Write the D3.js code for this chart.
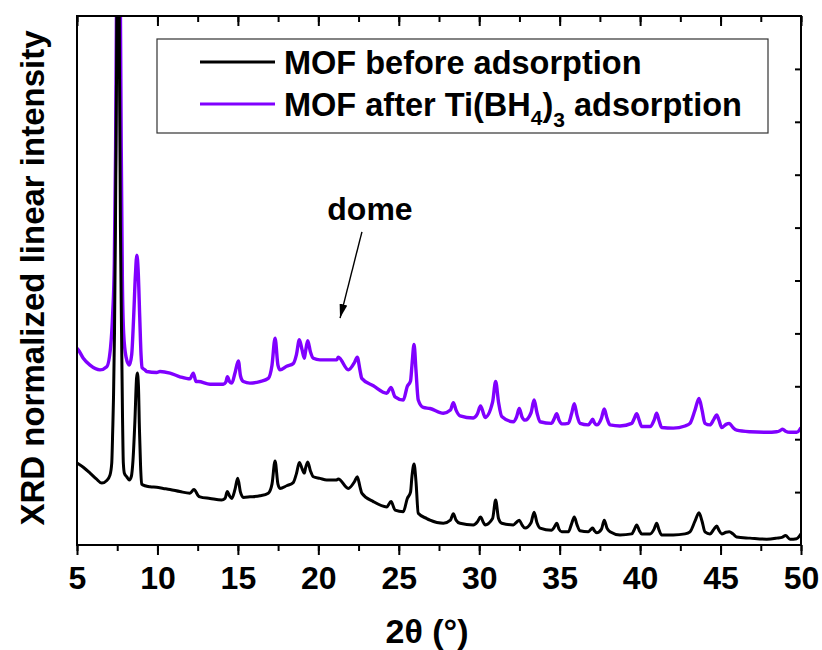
<!DOCTYPE html>
<html>
<head>
<meta charset="utf-8">
<script src="https://cdn.jsdelivr.net/npm/d3@7"></script>
<style>
body { margin: 0; background: #fff; }
svg text { font-family: "Liberation Sans", Arial, sans-serif; font-weight: bold; }
</style>
</head>
<body>
<div id="chart"></div>
<script>
// 2theta (deg), normalized intensity (arb. units)
const beforeAdsorption = [
  [5.00,1.55],[5.39,1.47],[5.81,1.36],[6.20,1.25],[6.54,1.17],[6.85,1.22],[7.05,1.32],[7.16,1.55],
  [7.22,2.17],[7.27,2.8],[7.33,4.0],[7.39,6.0],[7.46,9.0],[7.53,13.0],[7.58,13.0],[7.64,9.0],
  [7.70,6.0],[7.77,4.0],[7.83,2.4],[7.88,1.55],[7.95,1.35],[8.09,1.29],[8.25,1.23],[8.38,1.30],
  [8.48,1.60],[8.60,2.35],[8.70,3.15],[8.75,3.25],[8.82,3.00],[8.88,2.20],[8.95,1.50],[9.02,1.15],
  [9.23,1.12],[9.54,1.10],[9.95,1.09],[10.36,1.07],[10.78,1.05],[11.40,1.01],[12.02,0.98],[12.27,1.05],
  [12.54,0.93],[12.64,0.91],[13.27,0.88],[13.99,0.85],[14.20,0.88],[14.34,1.01],[14.48,0.93],[14.62,0.88],
  [14.82,1.05],[14.99,1.26],[15.16,1.00],[15.34,0.90],[15.75,0.91],[16.37,0.93],[16.89,0.98],[17.12,1.15],
  [17.31,1.59],[17.49,1.15],[17.62,1.07],[18.03,1.12],[18.44,1.18],[18.64,1.35],[18.82,1.56],[18.98,1.45],
  [19.13,1.36],[19.20,1.45],[19.34,1.57],[19.51,1.40],[19.69,1.29],[20.10,1.26],[20.52,1.23],[21.14,1.23],
  [21.24,1.25],[21.86,1.07],[22.25,1.20],[22.42,1.29],[22.59,1.10],[22.70,0.98],[23.42,0.82],[24.25,0.72],
  [24.52,0.82],[24.77,0.66],[25.28,0.63],[25.53,0.88],[25.73,1.00],[25.82,1.30],[25.95,1.53],[26.07,1.20],
  [26.21,0.60],[26.74,0.50],[26.94,0.47],[27.77,0.41],[28.21,0.47],[28.39,0.59],[28.56,0.47],[28.81,0.41],
  [29.63,0.38],[29.89,0.44],[30.08,0.53],[30.27,0.42],[30.36,0.38],[30.83,0.50],[31.02,0.85],[31.20,0.50],
  [31.40,0.41],[32.12,0.38],[32.32,0.43],[32.49,0.47],[32.66,0.38],[32.85,0.32],[33.22,0.42],[33.41,0.62],
  [33.59,0.42],[33.78,0.32],[34.50,0.28],[34.65,0.33],[34.82,0.41],[34.96,0.30],[35.13,0.25],[35.54,0.25],
  [35.74,0.40],[35.91,0.53],[36.08,0.38],[36.26,0.27],[36.78,0.25],[36.92,0.29],[37.05,0.32],[37.16,0.27],
  [37.30,0.23],[37.60,0.30],[37.77,0.47],[37.94,0.32],[38.13,0.25],[38.75,0.19],[39.48,0.21],[39.62,0.28],
  [39.79,0.38],[39.94,0.28],[40.10,0.21],[40.62,0.21],[40.87,0.30],[41.03,0.41],[41.18,0.28],[41.34,0.19],
  [42.06,0.19],[42.79,0.21],[43.10,0.25],[43.41,0.45],[43.66,0.61],[43.85,0.45],[44.03,0.25],[44.34,0.21],
  [44.59,0.30],[44.76,0.36],[44.90,0.28],[45.07,0.21],[45.34,0.24],[45.54,0.25],[45.77,0.21],[46.00,0.15],
  [46.83,0.13],[47.87,0.11],[48.49,0.13],[48.86,0.15],[49.04,0.18],[49.32,0.11],[49.73,0.12],[50.00,0.21]
];

const afterAdsorption = [
  [5.00,3.72],[5.08,3.69],[5.39,3.53],[5.81,3.40],[6.43,3.31],[6.85,3.37],[7.09,3.75],[7.22,4.39],
  [7.32,5.33],[7.40,7.5],[7.47,11.0],[7.55,15.0],[7.62,15.0],[7.68,11.0],[7.75,7.5],[7.82,5.0],
  [7.90,4.0],[8.05,3.55],[8.25,3.40],[8.40,3.60],[8.52,4.30],[8.63,5.10],[8.72,5.48],[8.80,5.20],
  [8.90,4.30],[8.98,3.60],[9.05,3.35],[9.23,3.31],[9.33,3.28],[9.95,3.26],[10.16,3.28],[10.78,3.25],
  [11.40,3.18],[12.02,3.14],[12.23,3.25],[12.40,3.09],[12.54,3.09],[13.27,3.04],[14.09,3.04],[14.25,3.08],
  [14.35,3.18],[14.48,3.09],[14.62,3.06],[14.82,3.25],[15.03,3.48],[15.16,3.20],[15.34,3.09],[15.75,3.06],
  [16.37,3.09],[16.89,3.15],[17.12,3.40],[17.31,3.91],[17.49,3.40],[17.62,3.31],[18.03,3.38],[18.44,3.43],
  [18.64,3.60],[18.82,3.88],[18.98,3.70],[19.13,3.53],[19.20,3.65],[19.34,3.86],[19.51,3.65],[19.69,3.53],
  [20.10,3.50],[20.52,3.50],[21.14,3.50],[21.24,3.55],[21.86,3.31],[22.25,3.45],[22.42,3.55],[22.59,3.30],
  [22.70,3.15],[23.42,3.01],[24.25,2.87],[24.52,2.98],[24.77,2.80],[25.28,2.74],[25.53,3.00],[25.73,3.10],
  [25.82,3.40],[25.95,3.79],[26.07,3.30],[26.21,2.74],[26.52,2.60],[26.94,2.58],[27.77,2.49],[28.21,2.55],
  [28.39,2.69],[28.56,2.55],[28.81,2.44],[29.63,2.40],[29.89,2.48],[30.08,2.63],[30.27,2.48],[30.36,2.41],
  [30.83,2.70],[31.02,3.09],[31.20,2.70],[31.40,2.43],[32.12,2.33],[32.32,2.42],[32.49,2.58],[32.66,2.42],
  [32.85,2.36],[33.22,2.50],[33.41,2.74],[33.59,2.50],[33.78,2.33],[34.50,2.30],[34.65,2.38],[34.82,2.48],
  [34.96,2.36],[35.13,2.29],[35.54,2.30],[35.74,2.48],[35.91,2.67],[36.08,2.45],[36.26,2.30],[36.78,2.27],
  [36.92,2.32],[37.05,2.38],[37.16,2.31],[37.30,2.27],[37.60,2.40],[37.77,2.57],[37.94,2.40],[38.13,2.27],
  [38.75,2.25],[39.48,2.30],[39.62,2.38],[39.79,2.48],[39.94,2.36],[40.10,2.24],[40.62,2.24],[40.87,2.36],
  [41.03,2.49],[41.18,2.35],[41.34,2.22],[42.06,2.21],[42.79,2.25],[43.10,2.30],[43.41,2.55],[43.66,2.77],
  [43.85,2.55],[44.03,2.30],[44.34,2.27],[44.59,2.38],[44.76,2.46],[44.90,2.36],[45.07,2.22],[45.34,2.28],
  [45.54,2.30],[45.77,2.22],[46.00,2.17],[46.83,2.14],[47.87,2.13],[48.49,2.14],[48.69,2.16],[48.86,2.19],
  [49.04,2.15],[49.32,2.13],[49.73,2.13],[50.00,2.22]
];

const xTicks = [5, 10, 15, 20, 25, 30, 35, 40, 45, 50];
const xMinorTicks = d3.range(5, 50.1, 2.5);
const yTicks = [1, 2, 3, 4, 5, 6, 7, 8, 9];

// "dome" annotation: label position and arrow (data coords)
const domeLabel = [23.21, 6.14];
const domeArrow = [[22.71, 5.92], [21.35, 4.29]];

const colors = { before: "#000000", after: "#8000ff" };

const svgWidth = 822, svgHeight = 650;
const margin = { top: 16, right: 21, bottom: 105, left: 77 };
const innerW = svgWidth - margin.left - margin.right;
const innerH = svgHeight - margin.top - margin.bottom;

const svg = d3.select("#chart").append("svg")
    .attr("width", svgWidth)
    .attr("height", svgHeight);

const defs = svg.append("defs");
defs.append("clipPath").attr("id", "plot-clip")
  .append("rect").attr("width", innerW).attr("height", innerH);
defs.append("marker")
    .attr("id", "arrowhead")
    .attr("viewBox", "0 0 10 10")
    .attr("refX", 10).attr("refY", 5)
    .attr("markerWidth", 14).attr("markerHeight", 8)
    .attr("markerUnits", "userSpaceOnUse")
    .attr("orient", "auto")
    .attr("preserveAspectRatio", "none")
  .append("path").attr("d", "M0,0 L10,5 L0,10 Z").attr("fill", "#000");

const g = svg.append("g").attr("transform", `translate(${margin.left},${margin.top})`);

const x = d3.scaleLinear().domain([5, 50]).range([0, innerW]);
const y = d3.scaleLinear().domain([0, 10]).range([innerH, 0]);

const line = d3.line()
    .x(d => x(d[0]))
    .y(d => y(d[1]))
    .curve(d3.curveMonotoneX);

const plot = g.append("g").attr("clip-path", "url(#plot-clip)");

plot.append("path")
    .datum(afterAdsorption)
    .attr("fill", "none")
    .attr("stroke", colors.after)
    .attr("stroke-width", 3.4)
    .attr("stroke-linejoin", "round")
    .attr("d", line);

plot.append("path")
    .datum(beforeAdsorption)
    .attr("fill", "none")
    .attr("stroke", colors.before)
    .attr("stroke-width", 3)
    .attr("stroke-linejoin", "round")
    .attr("d", line);

// axes
const bottomMinor = g.append("g")
    .attr("transform", `translate(0,${innerH})`)
    .call(d3.axisBottom(x).tickValues(xMinorTicks).tickSize(6).tickFormat(""));
const bottomMajor = g.append("g")
    .attr("transform", `translate(0,${innerH})`)
    .call(d3.axisBottom(x).tickValues(xTicks).tickSize(10).tickPadding(11).tickFormat(d3.format("d")));
bottomMajor.selectAll("text")
    .attr("fill", "#000")
    .style("font-size", "32px");

const topMinor = g.append("g")
    .call(d3.axisTop(x).tickValues(xMinorTicks).tickSize(-6).tickFormat(""));
const topMajor = g.append("g")
    .call(d3.axisTop(x).tickValues(xTicks).tickSize(-10).tickFormat(""));

const rightAxis = g.append("g")
    .attr("transform", `translate(${innerW},0)`)
    .call(d3.axisRight(y).tickValues(yTicks).tickSize(-6).tickFormat(""));

[bottomMinor, bottomMajor, topMinor, topMajor, rightAxis].forEach(a => {
    a.select(".domain").remove();
    a.selectAll(".tick line").attr("stroke", "#000").attr("stroke-width", 2);
});

// frame
g.append("rect")
    .attr("width", innerW)
    .attr("height", innerH)
    .attr("fill", "none")
    .attr("stroke", "#000")
    .attr("stroke-width", 2);

// axis titles
svg.append("text")
    .attr("x", 427)
    .attr("y", 643)
    .attr("text-anchor", "middle")
    .style("font-size", "34px")
    .text("2θ (°)");

svg.append("text")
    .attr("transform", "translate(44,278) rotate(-90)")
    .attr("text-anchor", "middle")
    .style("font-size", "33px")
    .text("XRD normalized linear intensity");

// annotation
g.append("text")
    .attr("x", x(domeLabel[0]))
    .attr("y", y(domeLabel[1]))
    .attr("text-anchor", "middle")
    .style("font-size", "32px")
    .text("dome");

g.append("line")
    .attr("x1", x(domeArrow[0][0])).attr("y1", y(domeArrow[0][1]))
    .attr("x2", x(domeArrow[1][0])).attr("y2", y(domeArrow[1][1]))
    .attr("stroke", "#000")
    .attr("stroke-width", 1.4)
    .attr("marker-end", "url(#arrowhead)");

// legend
const legend = svg.append("g").attr("transform", "translate(157,39)");
legend.append("rect")
    .attr("width", 611)
    .attr("height", 94)
    .attr("fill", "#fff")
    .attr("stroke", "#333")
    .attr("stroke-width", 1.2);

const legendRows = [
    { color: colors.before, y: 23 },
    { color: colors.after, y: 65 }
];
legendRows.forEach(r => {
    legend.append("line")
        .attr("x1", 43).attr("x2", 118)
        .attr("y1", r.y).attr("y2", r.y)
        .attr("stroke", r.color)
        .attr("stroke-width", 3);
});

legend.append("text")
    .attr("x", 127).attr("y", 23 + 12)
    .style("font-size", "32.5px")
    .text("MOF before adsorption");

const t2 = legend.append("text")
    .attr("x", 127).attr("y", 65 + 12)
    .style("font-size", "32.5px");
t2.append("tspan").text("MOF after Ti(BH");
t2.append("tspan").attr("dy", 9).style("font-size", "21px").text("4");
t2.append("tspan").attr("dy", -9).text(")");
t2.append("tspan").attr("dy", 11).style("font-size", "21px").text("3");
t2.append("tspan").attr("dy", -11).text(" adsorption");
</script>
</body>
</html>
